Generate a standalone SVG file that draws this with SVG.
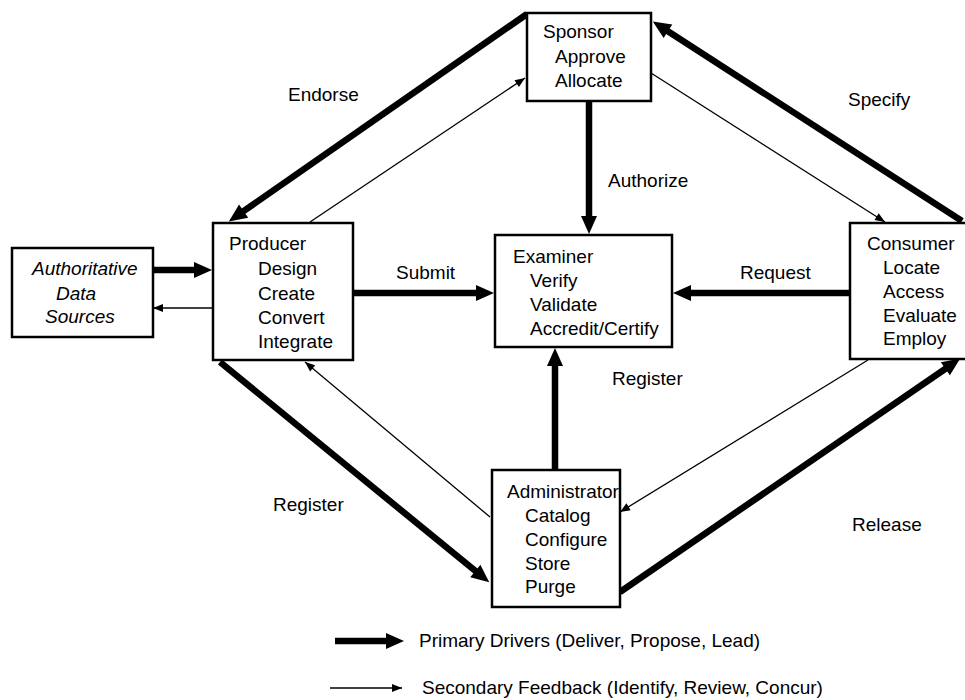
<svg xmlns="http://www.w3.org/2000/svg" width="965" height="700" viewBox="0 0 965 700">
  <style>
    text { font-family: "Liberation Sans", Arial, sans-serif; font-size: 19px; fill: #000; }
    .box { fill: #fff; stroke: #000; stroke-width: 2.5; }
    .primary { stroke: #000; stroke-width: 6.5; fill: none; marker-end: url(#headThick); }
    .secondary { stroke: #000; stroke-width: 1.3; fill: none; marker-end: url(#headThin); }
    .src { font-style: italic; }
  </style>
  <defs>
    <!-- wide wedge for primary drivers; line ends at the wedge base -->
    <marker id="headThick" markerUnits="userSpaceOnUse" markerWidth="20" markerHeight="18" refX="1" refY="8" orient="auto" overflow="visible">
      <path d="M0,0 L18,8 L0,16 z" fill="#000"/>
    </marker>
    <!-- small head for secondary feedback; line ends at the tip -->
    <marker id="headThin" markerUnits="userSpaceOnUse" markerWidth="12" markerHeight="10" refX="10" refY="4" orient="auto" overflow="visible">
      <path d="M0,0 L10,4 L0,8 z" fill="#000"/>
    </marker>
  </defs>

  <rect width="965" height="700" fill="#fff"/>

  <g id="connectors">
    <!-- primary drivers -->
    <line class="primary" x1="527" y1="14" x2="242.8" y2="211.7"/>
    <line class="primary" x1="962" y1="221" x2="667.1" y2="30.8"/>
    <line class="primary" x1="220" y1="362" x2="476.1" y2="571.6"/>
    <line class="primary" x1="620" y1="592" x2="946.2" y2="368.2"/>
    <line class="primary" x1="589" y1="101" x2="589" y2="217"/>
    <line class="primary" x1="555" y1="470" x2="555" y2="365"/>
    <line class="primary" x1="353" y1="293" x2="477" y2="293"/>
    <line class="primary" x1="850" y1="293" x2="690" y2="293"/>
    <line class="primary" x1="153" y1="270" x2="195" y2="270"/>
    <!-- secondary feedback -->
    <line class="secondary" x1="310" y1="222" x2="525" y2="78"/>
    <line class="secondary" x1="651" y1="73" x2="885" y2="222"/>
    <line class="secondary" x1="490" y1="517" x2="305" y2="362"/>
    <line class="secondary" x1="868" y1="360" x2="620" y2="512"/>
    <line class="secondary" x1="213" y1="308" x2="153" y2="308"/>
    <!-- connector labels -->
    <text x="288" y="101">Endorse</text>
    <text x="848" y="106">Specify</text>
    <text x="608" y="187">Authorize</text>
    <text x="396" y="279">Submit</text>
    <text x="740" y="279">Request</text>
    <text x="612" y="385">Register</text>
    <text x="273" y="511">Register</text>
    <text x="852" y="531">Release</text>
  </g>

  <g id="sponsor">
    <rect class="box" x="527" y="13" width="124" height="88"/>
    <text x="543" y="38">Sponsor</text>
    <text x="555" y="63">Approve</text>
    <text x="555" y="87">Allocate</text>
  </g>

  <g id="producer">
    <rect class="box" x="213" y="223" width="140" height="137"/>
    <text x="229" y="250">Producer</text>
    <text x="258" y="275">Design</text>
    <text x="258" y="300">Create</text>
    <text x="258" y="324">Convert</text>
    <text x="258" y="348">Integrate</text>
  </g>

  <g id="consumer">
    <rect class="box" x="850" y="223" width="120" height="136"/>
    <text x="867" y="250">Consumer</text>
    <text x="883" y="274">Locate</text>
    <text x="883" y="298">Access</text>
    <text x="883" y="322">Evaluate</text>
    <text x="883" y="345">Employ</text>
  </g>

  <g id="data-sources">
    <rect class="box" x="12" y="248" width="141" height="89"/>
    <text class="src" x="32" y="275">Authoritative</text>
    <text class="src" x="56" y="300">Data</text>
    <text class="src" x="45" y="323">Sources</text>
  </g>

  <g id="examiner">
    <rect class="box" x="495" y="235" width="177" height="112"/>
    <text x="513" y="263">Examiner</text>
    <text x="530" y="287">Verify</text>
    <text x="530" y="311">Validate</text>
    <text x="530" y="335">Accredit/Certify</text>
  </g>

  <g id="administrator">
    <rect class="box" x="492" y="470" width="128" height="137"/>
    <text x="507" y="498">Administrator</text>
    <text x="525" y="522">Catalog</text>
    <text x="525" y="546">Configure</text>
    <text x="525" y="570">Store</text>
    <text x="525" y="593">Purge</text>
  </g>

  <g id="legend">
    <line class="primary" x1="335" y1="641" x2="387" y2="641"/>
    <text x="419" y="647">Primary Drivers (Deliver, Propose, Lead)</text>
    <line class="secondary" x1="330" y1="688" x2="402" y2="688"/>
    <text x="422" y="694">Secondary Feedback (Identify, Review, Concur)</text>
  </g>
</svg>
